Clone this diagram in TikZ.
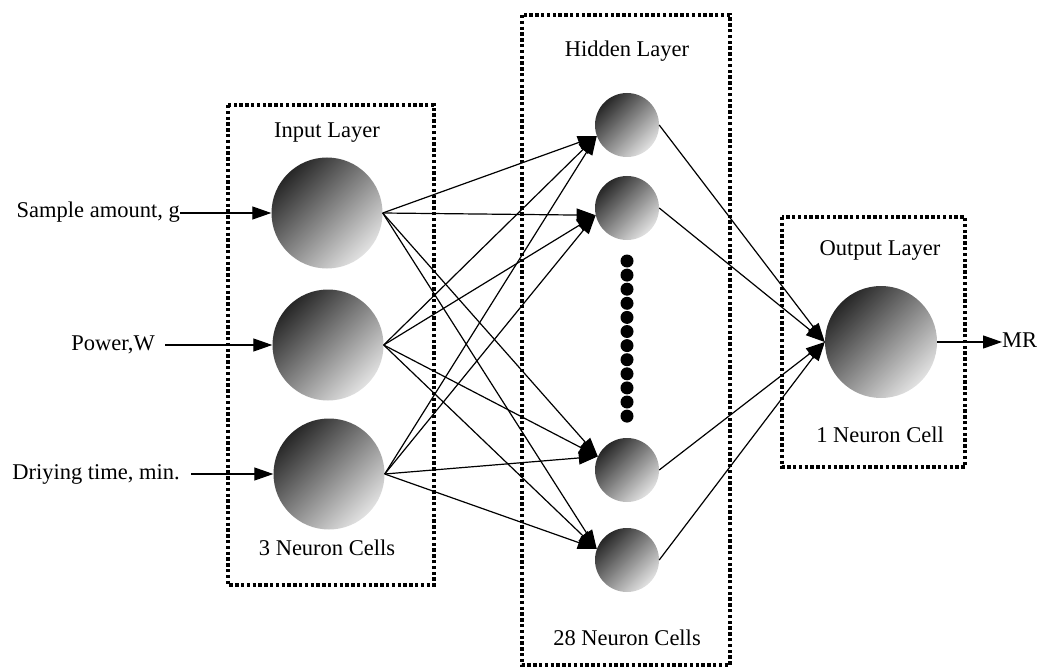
\documentclass[tikz,border=0pt]{standalone}
\usepackage{fontspec}
\setmainfont{Liberation Serif}
\usetikzlibrary{arrows.meta}
\definecolor{balldark}{HTML}{272727}
\definecolor{balllight}{HTML}{E2E2E2}
\tikzset{
  txt/.style={font=\fontsize{22.5}{26}\selectfont, inner sep=0pt, text height=15pt, text depth=5pt},
  ball/.style={circle, inner sep=0pt, shading=axis, top color=balldark, bottom color=balllight, shading angle=45},
  inball/.style={ball, minimum size=111pt},
  hidball/.style={ball, minimum size=64pt},
  outball/.style={ball, minimum size=112pt},
  layerbox/.style={draw, line width=3.4pt, dash pattern=on 3.4pt off 2.4pt},
  arr/.style={-{Triangle[length=19pt,width=13pt]}, line width=1.2pt},
  dotc/.style={circle, fill=black, inner sep=0pt, minimum size=13pt}
}
\begin{document}
\begin{tikzpicture}[x=1pt,y=-1pt]
\useasboundingbox (0,0) rectangle (1040,668);
% boxes
\draw[layerbox] (228,105) rectangle (434,585);
\draw[layerbox] (522,15) rectangle (730,665);
\draw[layerbox] (782,217) rectangle (965,467);
% layer titles
\node[txt] (tin) at (327,133) {Input Layer};
\node[txt] (cin) at (327,550) {3 Neuron Cells};
\node[txt] (thid) at (627,52) {Hidden Layer};
\node[txt] (chid) at (627,640) {28 Neuron Cells};
\node[txt] (tout) at (880,250) {Output Layer};
\node[txt] (cout) at (880,437) {1 Neuron Cell};
% neurons
\node[inball] (i1) at (327,213) {};
\node[inball] (i2) at (328,345) {};
\node[inball] (i3) at (329,474) {};
\node[hidball] (h1) at (627,125) {};
\node[hidball] (h2) at (627,208) {};
\node[hidball] (h3) at (627,470) {};
\node[hidball] (h4) at (627,560) {};
\node[outball] (o) at (881,342) {};
% dots
\foreach \k in {0,...,11} {
  \node[dotc] (d\k) at (627,{261+\k*14.1}) {};
}
% inputs
\node[txt, anchor=east] (l1) at (180,213) {Sample amount, g};
\node[txt, anchor=east] (l2) at (155,345) {Power,W};
\node[txt, anchor=east] (l3) at (180,474) {Driying time, min.};
\draw[arr] (l1.east) -- (i1.west);
\draw[arr, shorten <=10pt] (l2.east) -- (i2.west);
\draw[arr, shorten <=11pt] (l3.east) -- (i3.west);
% input -> hidden
\foreach \i in {i1,i2,i3} {
  \draw[arr] (\i.east) -- (h1.200);
  \draw[arr] (\i.east) -- (h2.193);
  \draw[arr] (\i.east) -- (h3.155);
  \draw[arr] (\i.east) -- (h4.160);
}
% hidden -> output
\foreach \h in {h1,h2,h3,h4} {
  \draw[arr] (\h.east) -- (o.west);
}
% output
\node[txt, anchor=west] (mr) at (1002,342) {MR};
\draw[arr] (o.east) -- (mr.west);
\end{tikzpicture}
\end{document}
